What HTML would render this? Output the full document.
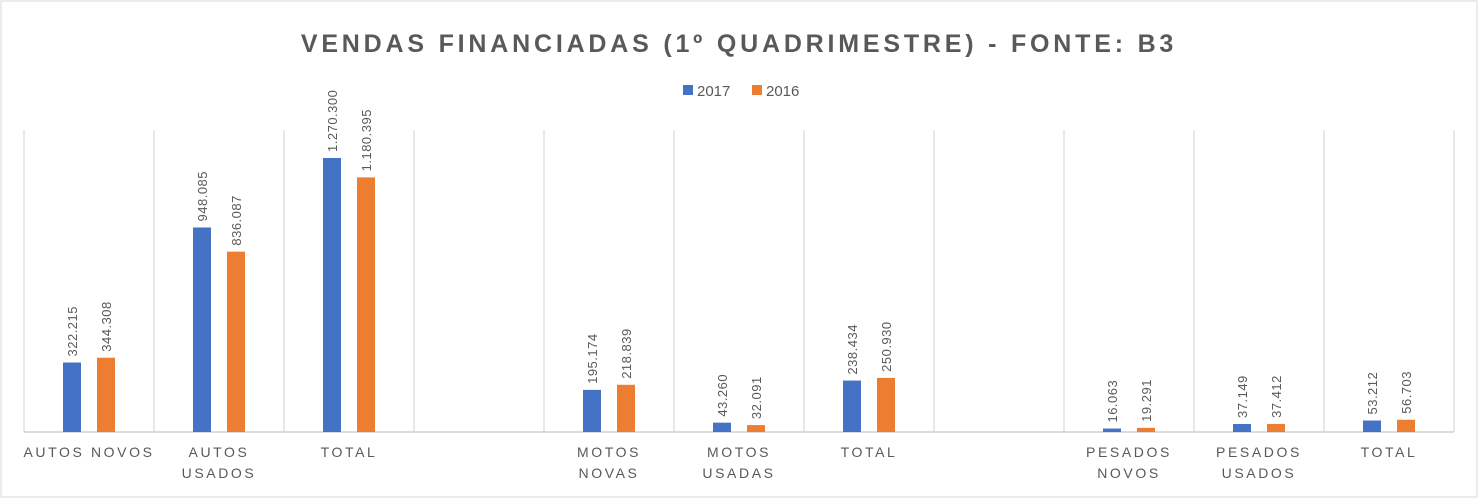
<!DOCTYPE html>
<html><head><meta charset="utf-8"><style>
body{margin:0;background:#fff;}
svg{display:block;font-family:"Liberation Sans",sans-serif;}
</style></head><body>
<svg id="chart" width="1478" height="498">
<rect x="1" y="1" width="1476" height="496" fill="#fff" stroke="#d9d9d9"/>
<text x="739" y="52" text-anchor="middle" font-size="25" font-weight="bold" fill="#595959" letter-spacing="3.8">VENDAS FINANCIADAS (1º QUADRIMESTRE) - FONTE: B3</text>
<g>
<rect x="683" y="85" width="10" height="10" fill="#4472c4"/>
<text x="697" y="96" font-size="15" fill="#595959">2017</text>
<rect x="752" y="85" width="10" height="10" fill="#ed7d31"/>
<text x="766" y="96" font-size="15" fill="#595959">2016</text>
</g>
<g id="plot"></g>
</svg>
<script>
const categories=[["AUTOS NOVOS"],["AUTOS","USADOS"],["TOTAL"],[""],["MOTOS","NOVAS"],["MOTOS","USADAS"],["TOTAL"],[""],["PESADOS","NOVOS"],["PESADOS","USADOS"],["TOTAL"]];
const values2017=[322215,948085,1270300,null,195174,43260,238434,null,16063,37149,53212];
const values2016=[344308,836087,1180395,null,218839,32091,250930,null,19291,37412,56703];
const yMax=1400000;
(function(){
const NS="http://www.w3.org/2000/svg";
const g=document.getElementById('plot');
const pLeft=24,pRight=1454,pBase=432,pTop=130,n=categories.length,cw=(pRight-pLeft)/n;
const y=v=>pBase-(v/yMax)*(pBase-pTop);
const cx=i=>pLeft+cw*(i+0.5);
function mk(t,a){const e=document.createElementNS(NS,t);for(const k in a)e.setAttribute(k,a[k]);g.appendChild(e);return e;}
for(let i=0;i<=n;i++){const l=mk('line',{x1:pLeft+cw*i,x2:pLeft+cw*i,y1:pTop,y2:pBase,stroke:'#d0d0d0','stroke-width':1});

}
const ax=mk('line',{x1:pLeft,x2:pRight,y1:pBase,y2:pBase,stroke:'#d0d0d0','stroke-width':1.5});


const fmt=v=>String(v).replace(/\B(?=(\d{3})+(?!\d))/g,'.');
[[values2017,'#4472c4',-26,'2017'],[values2016,'#ed7d31',8,'2016']].forEach(([vals,col,off,s])=>{
vals.forEach((v,i)=>{if(v==null)return;
const bx=cx(i)+off;
const r=mk('rect',{x:bx,y:y(v),width:18,height:pBase-y(v),fill:col});


const tx=bx+9+5,ty=y(v)-6;
const t=mk('text',{x:tx,y:ty,transform:`rotate(-90 ${tx} ${ty})`,'font-size':13,fill:'#595959','letter-spacing':'0.5'});
t.textContent=fmt(v);


});});
categories.forEach((c,i)=>{c.forEach((line,j)=>{if(!line)return;
const t=mk('text',{x:cx(i),y:457+j*21,'text-anchor':'middle','font-size':14,fill:'#595959','letter-spacing':'2.6'});
t.textContent=line;

});});
})();
</script>
</body></html>
